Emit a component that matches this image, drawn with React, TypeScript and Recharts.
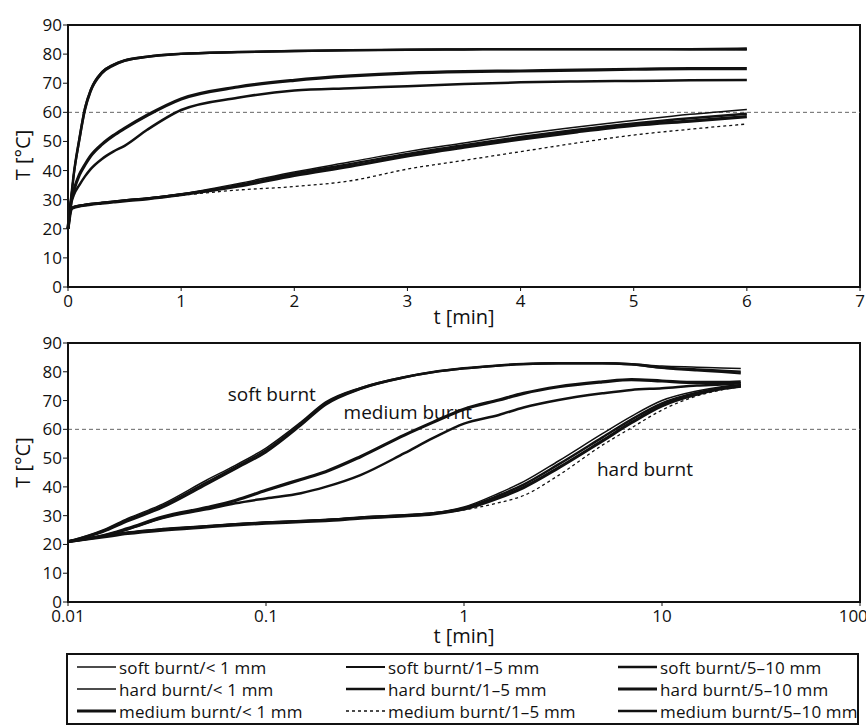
import React from 'react';
import {
  LineChart,
  Line,
  XAxis,
  YAxis,
  ReferenceLine,
  ReferenceArea,
  ReferenceDot,
  Label,
} from 'recharts';

const FONT = '"Open Sans", "Noto Sans", sans-serif';

// upper plot: linear time axis (min)
const topTime = [0, 0.03, 0.05, 0.1, 0.15, 0.2, 0.3, 0.4, 0.5, 0.7, 1, 1.5, 2, 2.5, 3, 3.5, 4, 4.5, 5, 5.5, 6];
const topSoftFine = [20, 32, 39, 51.5, 62, 68, 74, 76.5, 78, 79.3, 80.2, 80.8, 81.2, 81.4, 81.6, 81.7, 81.8, 81.8, 81.8, 81.7, 81.7];
const topSoftMid = [20, 31, 38, 50, 60.5, 67, 73.3, 76, 77.6, 79, 80, 80.6, 81, 81.3, 81.5, 81.6, 81.7, 81.7, 81.7, 81.6, 81.5];
const topSoftCoarse = [20, 31.5, 38.5, 50.8, 61.3, 67.5, 73.7, 76.3, 77.8, 79.1, 80.1, 80.7, 81.1, 81.3, 81.5, 81.6, 81.7, 81.7, 81.7, 81.7, 81.9];
const topHardFine = [20, 27, 27.5, 28, 28.3, 28.6, 29, 29.4, 29.8, 30.5, 32, 35.5, 39.5, 43, 46.5, 49.5, 52.5, 55, 57.2, 59.3, 61];
const topHardMid = [20, 27, 27.4, 27.9, 28.2, 28.5, 28.9, 29.3, 29.7, 30.4, 31.8, 35, 39, 42.3, 45.7, 48.7, 51.5, 54, 56.2, 58, 59.5];
const topHardCoarse = [20, 26.8, 27.3, 27.8, 28.1, 28.4, 28.8, 29.2, 29.6, 30.3, 31.7, 34.6, 38.3, 41.5, 45, 48, 50.8, 53.3, 55.5, 57, 58.5];
const topMediumFine = [20, 30, 33, 38.5, 42, 45, 49, 52, 54.5, 59, 64.6, 68.7, 71, 72.5, 73.5, 74, 74.2, 74.5, 74.8, 75, 75];
const topMediumMid = [20, 26.8, 27.3, 27.8, 28.1, 28.4, 28.8, 29.2, 29.6, 30.3, 31.5, 33.3, 34.5, 36.5, 40.5, 43.5, 46.5, 49.5, 52.2, 54.2, 56];
const topMediumCoarse = [20, 29, 31.5, 35, 38, 40.5, 44, 46.5, 48.5, 54, 60.8, 65, 67.5, 68.3, 69, 69.7, 70.3, 70.6, 70.8, 71, 71.1];

// lower plot: logarithmic time axis (min)
const botTime = [0.01, 0.015, 0.02, 0.03, 0.05, 0.07, 0.1, 0.15, 0.2, 0.3, 0.5, 0.7, 1, 1.5, 2, 3, 5, 7, 10, 15, 20, 25];
const botSoftFine = [21, 25, 29, 34, 42.3, 47.5, 53.5, 62.5, 69.5, 74.5, 78.3, 80, 81.3, 82.3, 82.8, 83.1, 83.1, 82.8, 82, 81.6, 81.3, 81.1];
const botSoftMid = [21, 24.3, 28, 32.8, 40.8, 46.2, 52, 61.3, 68.5, 74, 78, 79.8, 81.1, 82.1, 82.6, 82.9, 82.9, 82.5, 81.3, 80.4, 79.9, 79.4];
const botSoftCoarse = [21, 24.6, 28.5, 33.4, 41.5, 46.8, 52.7, 61.9, 69, 74.2, 78.1, 79.9, 81.2, 82.2, 82.7, 83, 83, 82.6, 81.5, 80.8, 80.4, 80];
const botHardFine = [21, 23, 24.3, 25.5, 26.5, 27.2, 27.8, 28.3, 28.7, 29.5, 30.3, 31, 33, 37.8, 41.8, 49, 58.5, 64.5, 70, 73.3, 74.8, 75.5];
const botHardMid = [21, 22.8, 24, 25.2, 26.3, 27, 27.6, 28.1, 28.5, 29.3, 30.1, 30.8, 32.6, 37, 40.8, 47.8, 57.2, 63.4, 69, 72.7, 74.4, 75.3];
const botHardCoarse = [21, 22.6, 23.8, 25, 26.1, 26.8, 27.4, 27.9, 28.3, 29.1, 29.9, 30.6, 32.3, 36.2, 39.8, 46.6, 56, 62.3, 68.2, 72.2, 74.1, 75];
const botMediumFine = [21, 23, 25.5, 29.5, 32.8, 35.3, 38.8, 42.6, 45.3, 50.5, 58, 62.5, 67, 70.2, 72.5, 74.8, 76.5, 77.3, 76.8, 76.3, 76.3, 76.5];
const botMediumMid = [21, 22.6, 23.8, 25, 26.1, 26.8, 27.4, 27.9, 28.3, 29.1, 29.9, 30.6, 32, 34.5, 37, 44, 54.5, 60.5, 66.7, 71.6, 73.7, 74.8];
const botMediumCoarse = [21, 23, 25.3, 29.2, 32.2, 34.3, 36, 37.8, 40, 44.1, 51.7, 57, 62, 65, 67.6, 70.2, 72.5, 73.7, 74.3, 75.2, 75.6, 76];

const yTicks = [0, 10, 20, 30, 40, 50, 60, 70, 80, 90];
const topXTicks = [0, 1, 2, 3, 4, 5, 6, 7];
const botXTicks = [0.01, 0.1, 1, 10, 100];

// legend order (row by row)
const series = [
  { key: 'softFine', name: 'soft burnt/< 1 mm', width: 1.5, dash: '' },
  { key: 'softMid', name: 'soft burnt/1–5 mm', width: 2, dash: '' },
  { key: 'softCoarse', name: 'soft burnt/5–10 mm', width: 2.5, dash: '' },
  { key: 'hardFine', name: 'hard burnt/< 1 mm', width: 1.5, dash: '' },
  { key: 'hardMid', name: 'hard burnt/1–5 mm', width: 2.5, dash: '' },
  { key: 'hardCoarse', name: 'hard burnt/5–10 mm', width: 3.2, dash: '' },
  { key: 'mediumFine', name: 'medium burnt/< 1 mm', width: 3.2, dash: '' },
  { key: 'mediumMid', name: 'medium burnt/1–5 mm', width: 1.3, dash: '3 3' },
  { key: 'mediumCoarse', name: 'medium burnt/5–10 mm', width: 2.5, dash: '' },
];

const topValues: Record<string, number[]> = {
  softFine: topSoftFine, softMid: topSoftMid, softCoarse: topSoftCoarse,
  hardFine: topHardFine, hardMid: topHardMid, hardCoarse: topHardCoarse,
  mediumFine: topMediumFine, mediumMid: topMediumMid, mediumCoarse: topMediumCoarse,
};
const botValues: Record<string, number[]> = {
  softFine: botSoftFine, softMid: botSoftMid, softCoarse: botSoftCoarse,
  hardFine: botHardFine, hardMid: botHardMid, hardCoarse: botHardCoarse,
  mediumFine: botMediumFine, mediumMid: botMediumMid, mediumCoarse: botMediumCoarse,
};

const buildRows = (time: number[], values: Record<string, number[]>) =>
  time.map((t, i) => {
    const row: Record<string, number> = { t };
    series.forEach((s) => (row[s.key] = values[s.key][i]));
    return row;
  });

const topData = buildRows(topTime, topValues);
const botData = buildRows(botTime, botValues);

const tickStyle = { fill: '#111', fontSize: 17, fontFamily: FONT };

function YTitle(props: any) {
  const vb = props.viewBox;
  const cx = 22;
  const cy = vb.y + vb.height / 2 + (props.shift || 0);
  return (
    <text
      x={cx}
      y={cy}
      transform={`rotate(-90 ${cx} ${cy})`}
      textAnchor="middle"
      dominantBaseline="central"
      fontSize={20}
      fontFamily={FONT}
      fill="#111"
    >
      T [°C]
    </text>
  );
}

function XTitle(props: any) {
  const vb = props.viewBox;
  return (
    <text
      x={vb.x + vb.width / 2}
      y={vb.y + (props.drop || 37)}
      textAnchor="middle"
      fontSize={20}
      fontFamily={FONT}
      fill="#111"
    >
      t [min]
    </text>
  );
}

function Curves() {
  return series.map((s) => (
    <Line
      key={s.key}
      type="monotone"
      dataKey={s.key}
      name={s.name}
      stroke="#111"
      strokeWidth={s.width}
      strokeDasharray={s.dash || undefined}
      dot={false}
      isAnimationActive={false}
    />
  ));
}

function Legend() {
  const cols = [11, 280, 552];
  const rows = [14, 36, 58];
  return (
    <svg width={793} height={72} style={{ position: 'absolute', left: 66, top: 653 }}>
      <rect x={1} y={1} width={791} height={70} fill="none" stroke="#111" strokeWidth={2} />
      {series.map((s, i) => {
        const x = cols[i % 3];
        const y = rows[Math.floor(i / 3)];
        return (
          <g key={s.key}>
            <line x1={x} x2={x + 39} y1={y} y2={y} stroke="#111" strokeWidth={s.width} strokeDasharray={s.dash || undefined} />
            <text x={x + 42} y={y} dominantBaseline="central" fontSize={17} letterSpacing={0.15} fontFamily={FONT} fill="#111">
              {s.name}
            </text>
          </g>
        );
      })}
    </svg>
  );
}

export default function App() {
  return (
    <div style={{ position: 'absolute', left: 0, top: 0, width: 866, height: 725, background: '#fff' }}>
      <div style={{ position: 'absolute', left: 0, top: 0 }}>
        <LineChart width={866} height={335} data={topData} margin={{ top: 25, right: 6, bottom: 0, left: 0 }}>
          <ReferenceArea x1={0} x2={7} y1={0} y2={90} fill="none" stroke="#111" strokeWidth={2} />
          <ReferenceLine y={60} stroke="#666" strokeDasharray="4 3" strokeWidth={1} />
          <XAxis
            dataKey="t"
            type="number"
            domain={[0, 7]}
            ticks={topXTicks}
            height={48}
            tick={tickStyle}
            tickSize={4}
            tickMargin={4}
            axisLine={{ stroke: '#111', strokeWidth: 2 }}
            tickLine={{ stroke: '#111' }}
          >
            <Label content={<XTitle drop={37} />} />
          </XAxis>
          <YAxis
            type="number"
            domain={[0, 90]}
            ticks={yTicks}
            width={68}
            tick={tickStyle}
            tickSize={5}
            tickMargin={1}
            axisLine={{ stroke: '#111', strokeWidth: 2 }}
            tickLine={{ stroke: '#111' }}
          >
            <Label content={<YTitle shift={-1} />} />
          </YAxis>
          {Curves()}
        </LineChart>
      </div>
      <div style={{ position: 'absolute', left: 0, top: 328 }}>
        <LineChart width={866} height={322} data={botData} margin={{ top: 15, right: 6, bottom: 0, left: 0 }}>
          <ReferenceArea x1={0.01} x2={100} y1={0} y2={90} fill="none" stroke="#111" strokeWidth={2} />
          <ReferenceLine y={60} stroke="#666" strokeDasharray="4 3" strokeWidth={1} />
          <XAxis
            dataKey="t"
            type="number"
            scale="log"
            domain={[0.01, 100]}
            ticks={botXTicks}
            allowDataOverflow
            tickFormatter={(v: number) => String(v)}
            height={48}
            tick={tickStyle}
            tickSize={4}
            tickMargin={4}
            axisLine={{ stroke: '#111', strokeWidth: 2 }}
            tickLine={{ stroke: '#111' }}
          >
            <Label content={<XTitle drop={41} />} />
          </XAxis>
          <YAxis
            type="number"
            domain={[0, 90]}
            ticks={yTicks}
            width={68}
            tick={tickStyle}
            tickSize={5}
            tickMargin={1}
            axisLine={{ stroke: '#111', strokeWidth: 2 }}
            tickLine={{ stroke: '#111' }}
          >
            <Label content={<YTitle shift={-10} />} />
          </YAxis>
          {Curves()}
          <ReferenceDot x={0.107} y={72.3} r={1} fill="none" stroke="none"
            label={{ value: 'soft burnt', position: 'center', fontSize: 19, fill: '#111', fontFamily: FONT }} />
          <ReferenceDot x={0.52} y={66} r={1} fill="none" stroke="none"
            label={{ value: 'medium burnt', position: 'center', fontSize: 19, fill: '#111', fontFamily: FONT }} />
          <ReferenceDot x={8.2} y={46.2} r={1} fill="none" stroke="none"
            label={{ value: 'hard burnt', position: 'center', fontSize: 19, fill: '#111', fontFamily: FONT }} />
        </LineChart>
      </div>
      <Legend />
    </div>
  );
}
